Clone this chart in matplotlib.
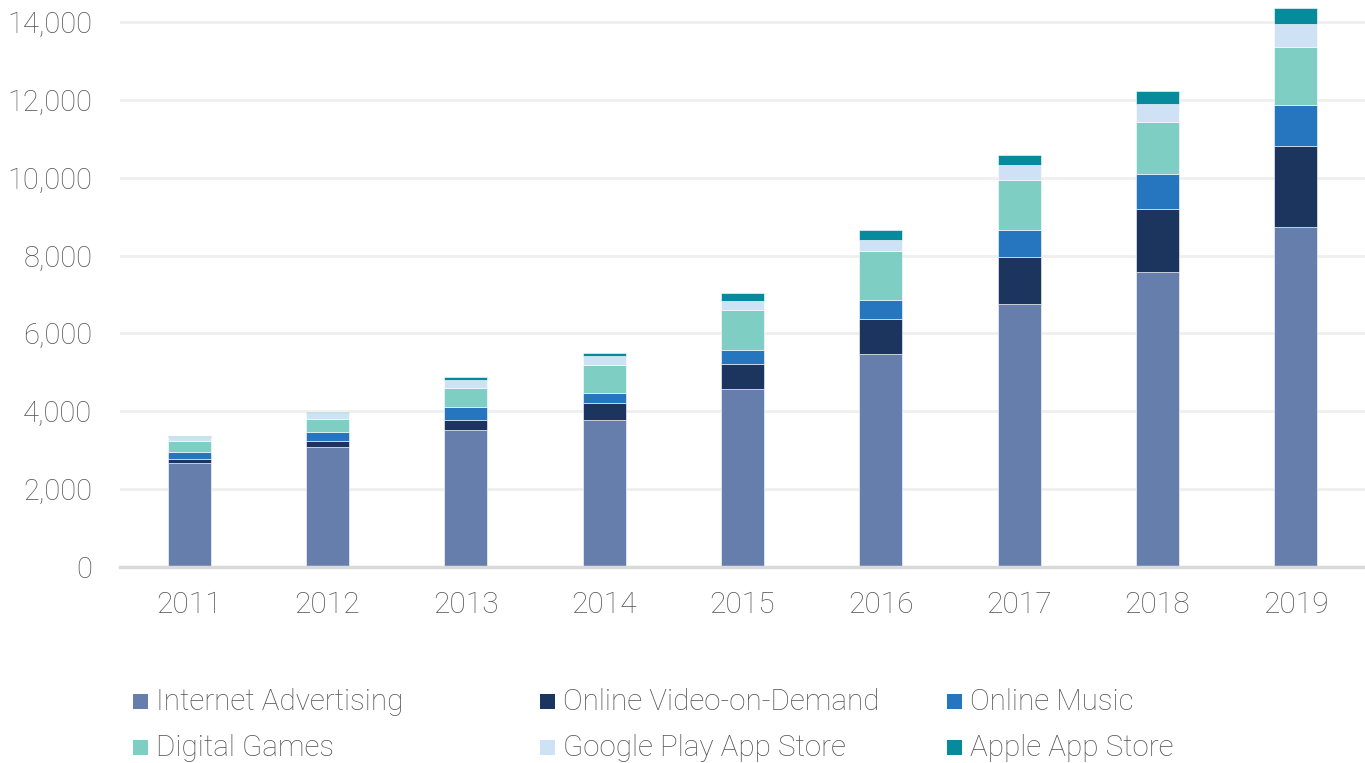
import matplotlib
matplotlib.use("Agg")
import matplotlib.pyplot as plt
from matplotlib.patches import Rectangle
from matplotlib.ticker import FuncFormatter

plt.rcParams['font.family'] = ['Roboto', 'DejaVu Sans']
plt.rcParams['font.weight'] = 'light'

years = ['2011', '2012', '2013', '2014', '2015', '2016', '2017', '2018', '2019']
series_names = ['Internet Advertising', 'Online Video-on-Demand', 'Online Music',
                'Digital Games', 'Google Play App Store', 'Apple App Store']
internet_ads = [2664, 3083, 3511, 3776, 4580, 5471, 6756, 7586, 8734]
online_vod = [110, 161, 273, 429, 642, 907, 1199, 1602, 2089]
online_music = [188, 232, 318, 257, 344, 488, 702, 907, 1045]
digital_games = [282, 333, 496, 735, 1043, 1251, 1284, 1336, 1498]
google_play = [95, 155, 205, 223, 232, 283, 385, 454, 575]
apple_store = [34, 25, 77, 77, 189, 257, 257, 342, 427]
colors = ['#667eac', '#1c355e', '#2576bf', '#7fcec4', '#cfe2f5', '#078a9c']
yticks = [0, 2000, 4000, 6000, 8000, 10000, 12000, 14000]

W, H = 1365, 763
fig = plt.figure(figsize=(W / 100, H / 100), dpi=100)
ax = fig.add_axes([120 / W, 1 - 567 / H, 1245 / W, 565 / H])

data = [internet_ads, online_vod, online_music, digital_games, google_play, apple_store]
x = list(range(len(years)))
bottom = [0] * len(years)
for vals, col, name in zip(data, colors, series_names):
    ax.bar(x, vals, bottom=bottom, width=0.31, color=col, label=name,
           edgecolor='white', linewidth=0.4, zorder=3)
    bottom = [b + v for b, v in zip(bottom, vals)]

ax.set_xlim(-0.5, len(years) - 0.5)
ax.set_ylim(0, 14513)
ax.set_yticks(yticks)
ax.yaxis.set_major_formatter(FuncFormatter(lambda v, p: f'{int(v):,}'))
ax.set_xticks(x)
ax.set_xticklabels(years)
ax.grid(axis='y', color='#efefef', linewidth=2, zorder=0)
for s in ['top', 'right', 'left']:
    ax.spines[s].set_visible(False)
ax.spines['bottom'].set_color('#d9d9d9')
ax.spines['bottom'].set_linewidth(2.5)
ax.spines['bottom'].set_zorder(4)
ax.tick_params(axis='both', length=0, labelcolor='#555555')
ax.tick_params(axis='y', pad=20, labelsize=21)
ax.tick_params(axis='x', pad=17, labelsize=21.5)
for lab in ax.get_xticklabels() + ax.get_yticklabels():
    lab.set_fontweight('light')

# legend, laid out as in the reference (3 columns x 2 rows)
col_x = [133, 540, 947]
row_y = [702, 748]
for i, (name, col) in enumerate(zip(series_names, colors)):
    r, c = divmod(i, 3)
    px, py = col_x[c], row_y[r]
    fig.add_artist(Rectangle((px / W, 1 - (py + 7) / H), 15 / W, 15 / H,
                             transform=fig.transFigure, facecolor=col, edgecolor='none'))
    fig.text((px + 23) / W, 1 - py / H, name, fontsize=21.3, color='#555555',
             va='center', ha='left', fontweight='light')

fig.savefig('out.png', dpi=100)
